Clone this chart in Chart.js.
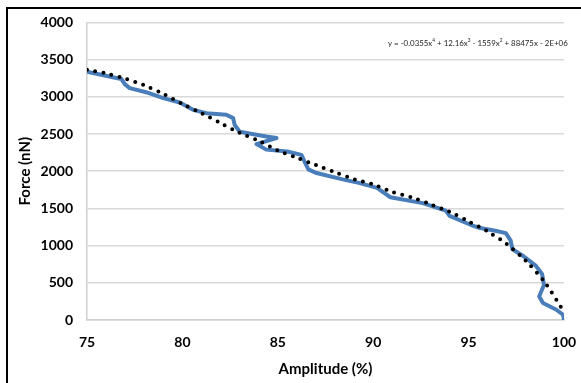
<!DOCTYPE html>
<html>
<head>
<meta charset="utf-8">
<script src="https://cdn.jsdelivr.net/npm/chart.js@4"></script>
<style>
  html, body { margin: 0; padding: 0; background: #fff; }
  #wrap { position: absolute; left: 0; top: 0; width: 581px; height: 383px; }
</style>
</head>
<body>
<div id="wrap"><canvas id="chart" width="581" height="383"></canvas></div>
<script>
const amplitude = [75, 76.35, 76.8, 76.98, 77.24, 78.1, 79.0, 79.86, 80.56, 81.26, 82.3, 82.66, 82.74, 83.0, 84.4, 84.93, 83.88, 84.4, 85.5, 86.24, 86.4, 86.6, 87.03, 88.4, 89.3, 90.2, 90.9, 92.6, 93.8, 94.0, 95.1, 95.6, 96.4, 96.95, 97.2, 97.3, 97.9, 98.5, 98.85, 98.95, 98.85, 98.7, 98.9, 99.6, 99.95, 100];
const force = [3339, 3262, 3240, 3170, 3116, 3062, 2982, 2923, 2825, 2780, 2758, 2713, 2623, 2530, 2466, 2445, 2365, 2290, 2265, 2220, 2130, 2025, 1975, 1890, 1840, 1775, 1650, 1571, 1470, 1400, 1280, 1236, 1200, 1168, 1070, 950, 854, 735, 620, 470, 410, 317, 228, 138, 71, 0];

// polynomial trendline (dotted)
const trendX = [75, 76, 77, 78, 79, 80, 81, 82, 83, 84, 85, 86, 87, 88, 89, 90, 91, 92, 93, 94, 95, 96, 97, 98, 99, 99.9];
const trendY = [3365, 3315, 3244, 3155, 3040, 2905, 2780, 2648, 2515, 2408, 2278, 2180, 2083, 1986, 1893, 1822, 1720, 1650, 1555, 1455, 1325, 1190, 1020, 795, 505, 150];

const xTicks = [75, 80, 85, 90, 95, 100];
const yTicks = [0, 500, 1000, 1500, 2000, 2500, 3000, 3500, 4000];

const equation = [
  ['y = -0.0355x', ''], ['4', 'sup'], [' + 12.16x', ''], ['3', 'sup'],
  [' - 1559x', ''], ['2', 'sup'], [' + 88475x - 2E+06', '']
];

Chart.defaults.font.family = 'Lato';
Chart.defaults.color = '#000';

const pairs = (xs, ys) => xs.map((x, i) => ({ x: x, y: ys[i] }));

const frame = {
  id: 'frame',
  afterDraw(chart) {
    const ctx = chart.ctx;
    ctx.save();
    ctx.strokeStyle = '#000';
    ctx.lineWidth = 2;
    ctx.beginPath();
    ctx.moveTo(7, 383);
    ctx.lineTo(7, 8);
    ctx.lineTo(581, 8);
    ctx.stroke();

    // trendline equation, fitted to the width it has in the picture
    const left = 388, width = 180, y = 43;
    const measure = (size) => equation.reduce((w, [txt, kind]) => {
      ctx.font = (kind === 'sup' ? size * 0.6 : size) + 'px Lato';
      return w + ctx.measureText(txt).width;
    }, 0);
    const size = 10 * width / measure(10);
    let x = left;
    ctx.fillStyle = '#222';
    ctx.textBaseline = 'middle';
    equation.forEach(([txt, kind]) => {
      if (kind === 'sup') {
        ctx.font = (size * 0.6) + 'px Lato';
        ctx.fillText(txt, x, y - 3);
      } else {
        ctx.font = size + 'px Lato';
        ctx.fillText(txt, x, y);
      }
      x += ctx.measureText(txt).width;
    });
    ctx.restore();
  }
};

new Chart(document.getElementById('chart'), {
  type: 'scatter',
  data: {
    datasets: [
      {
        label: 'Poly. trend',
        data: pairs(trendX, trendY),
        showLine: true,
        borderColor: '#000',
        borderWidth: 4,
        borderDash: [0, 8.3],
        borderCapStyle: 'round',
        pointRadius: 0,
        tension: 0.3
      },
      {
        label: 'Force',
        data: pairs(amplitude, force),
        showLine: true,
        borderColor: '#4a7ebb',
        borderWidth: 4,
        borderJoinStyle: 'round',
        pointRadius: 0
      }
    ]
  },
  options: {
    responsive: false,
    animation: false,
    layout: { padding: { left: 8, top: 22, right: 17, bottom: 1 } },
    plugins: { legend: { display: false }, tooltip: { enabled: false } },
    scales: {
      x: {
        min: 75, max: 100,
        afterBuildTicks: (s) => { s.ticks = xTicks.map(v => ({ value: v })); },
        afterFit: (s) => { s.height = 62; s.paddingRight = 0; s.paddingLeft = 0; },
        grid: { display: false, drawTicks: false },
        border: { color: '#d0d0d0', width: 1.5 },
        ticks: { font: { size: 14, weight: 'bold' }, padding: 14, callback: (v) => String(v) },
        title: { display: true, text: 'Amplitude (%)', font: { size: 15, weight: 'bold' }, padding: { top: 4, bottom: 4 } }
      },
      y: {
        min: 0, max: 4000,
        afterBuildTicks: (s) => { s.ticks = yTicks.map(v => ({ value: v })); },
        afterFit: (s) => { s.width = 79; },
        grid: { color: '#d9d9d9', lineWidth: 1.5, drawTicks: false },
        border: { color: '#d0d0d0', width: 1.5 },
        ticks: { font: { size: 14, weight: 'bold' }, padding: 14, callback: (v) => String(v) },
        title: { display: true, text: 'Force (nN)', font: { size: 15, weight: 'bold' }, padding: { top: 8, bottom: 0 } }
      }
    }
  },
  plugins: [frame]
});
</script>
</body>
</html>
